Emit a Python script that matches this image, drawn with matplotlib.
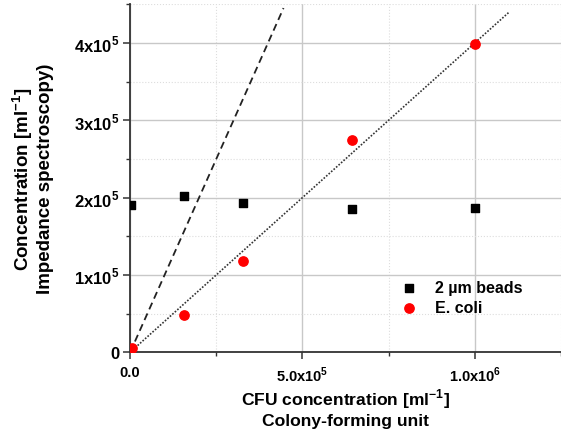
import matplotlib
matplotlib.use("Agg")
import matplotlib.pyplot as plt
from matplotlib.ticker import MultipleLocator, FixedFormatter, FixedLocator

plt.rcParams["font.family"] = ["Liberation Sans", "DejaVu Sans"]
plt.rcParams["mathtext.fontset"] = "custom"
plt.rcParams["mathtext.rm"] = "Liberation Sans:bold"
plt.rcParams["mathtext.bf"] = "Liberation Sans:bold"

# data
bead_x = [3e3, 1.55e5, 3.26e5, 6.44e5, 1.0e6]
bead_y = [1.907e5, 2.015e5, 1.925e5, 1.85e5, 1.865e5]
ecoli_x = [5e3, 1.55e5, 3.26e5, 6.44e5, 1.0e6]
ecoli_y = [0.06e5, 0.48e5, 1.18e5, 2.75e5, 3.98e5]

# reference lines: y = x (dashed) and fitted slope (dotted)
ident_x = [0, 4.45e5]
ident_y = [0, 4.45e5]
fit_slope = 0.4
fit_x = [0, 1.1e6]
fit_y = [fit_slope * v for v in fit_x]

yticks = [0, 1e5, 2e5, 3e5, 4e5]
ylabels = ["0", r"1x10$^{5}$", r"2x10$^{5}$", r"3x10$^{5}$", r"4x10$^{5}$"]
xticks = [0, 5e5, 1e6]
xlabels = ["0.0", r"5.0x10$^{5}$", r"1.0x10$^{6}$"]

fig = plt.figure(figsize=(5.61, 4.35), dpi=100)
ax = fig.add_axes([0.232, 0.188, 0.768, 0.8])

ax.plot(ident_x, ident_y, ls=(0, (4, 2.5)), color="#222", lw=1.3, zorder=2)
ax.plot(fit_x, fit_y, ls=(0, (1, 1)), color="#333", lw=1.2, zorder=2)
ax.scatter(bead_x, bead_y, marker="s", s=38, color="black", zorder=3,
           label="2 µm beads")
ax.scatter(ecoli_x, ecoli_y, marker="o", s=45, color="#ff0000", zorder=3,
           label="E. coli")

ax.set_xlim(0, 1.25e6)
ax.set_ylim(0, 4.5e5)
ax.xaxis.set_major_locator(FixedLocator(xticks))
ax.xaxis.set_major_formatter(FixedFormatter(xlabels))
ax.xaxis.set_minor_locator(MultipleLocator(2.5e5))
ax.yaxis.set_major_locator(FixedLocator(yticks))
ax.yaxis.set_major_formatter(FixedFormatter(ylabels))
ax.yaxis.set_minor_locator(MultipleLocator(0.5e5))

ax.grid(which="major", color="#c8c8c8", lw=1.0, zorder=0)
ax.grid(which="minor", color="#dddddd", lw=0.8, ls=":", zorder=0)
ax.set_axisbelow(True)

for s in ("top", "right"):
    ax.spines[s].set_visible(False)
for s in ("left", "bottom"):
    ax.spines[s].set_color("#333")
    ax.spines[s].set_linewidth(1.3)
ax.tick_params(which="major", direction="out", length=5, width=1.1,
               color="#333")
ax.tick_params(which="minor", direction="out", length=3, width=1.0, color="#333")
ax.tick_params(axis="x", labelsize=10.5, pad=4)
ax.tick_params(axis="y", labelsize=12, pad=3)
for lbl in ax.get_xticklabels() + ax.get_yticklabels():
    lbl.set_fontweight("bold")

ax.set_xlabel("CFU concentration [ml$^{-1}$]\nColony-forming unit",
              fontsize=12.6, fontweight="bold", labelpad=2, linespacing=1.2)
ax.set_ylabel("Concentration [ml$^{-1}$]\nImpedance spectroscopy)",
              fontsize=13.5, fontweight="bold", labelpad=14, linespacing=1.2)

ax.legend(loc="lower right", bbox_to_anchor=(0.944, 0.066), frameon=False,
          prop={"weight": "bold", "size": 11.5}, handletextpad=0.6,
          scatterpoints=1, labelspacing=0.3)

fig.savefig("out.png", dpi=100)
